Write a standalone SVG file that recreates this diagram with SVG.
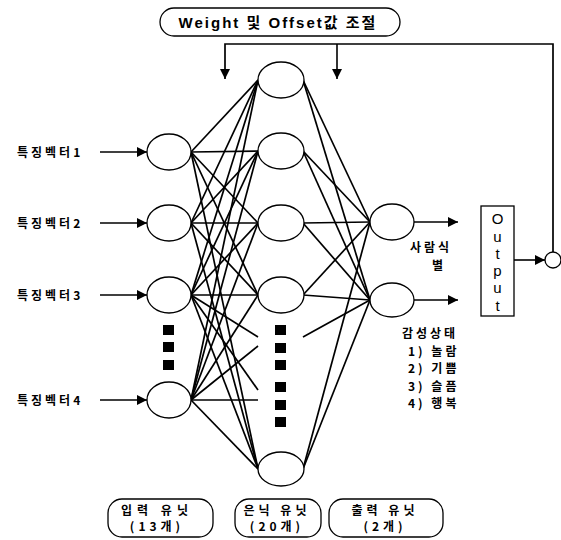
<svg xmlns="http://www.w3.org/2000/svg" width="561" height="540" viewBox="0 0 561 540">
<defs>
<marker id="ah2" viewBox="0 0 10 10" refX="10" refY="5" markerWidth="10" markerHeight="10" markerUnits="userSpaceOnUse" orient="auto"><path d="M0,0 L10,5 L0,10 z" fill="#000"/></marker>
<style>
.n{fill:#fff;stroke:#000;stroke-width:1.3}
.w{stroke:#000;stroke-width:1.7;fill:none}
.a{stroke:#000;stroke-width:1.6;fill:none;marker-end:url(#ah2)}
.t{font-family:"Liberation Sans","Noto Sans CJK KR",sans-serif;fill:#000}
.k{font-family:"Noto Sans CJK KR","Liberation Sans",sans-serif;font-weight:bold;font-size:12px;fill:#000;letter-spacing:3px}
.b{fill:#fff;stroke:#000;stroke-width:1.3}
.sq{fill:#000}
</style>
</defs>
<rect width="561" height="540" fill="#fff"/>

<g id="connectors">
<g class="w">
<line x1="191" y1="152" x2="258" y2="80"/>
<line x1="191" y1="152" x2="258" y2="151"/>
<line x1="191" y1="152" x2="258" y2="223"/>
<line x1="191" y1="152" x2="258" y2="295"/>
<line x1="191" y1="152" x2="258" y2="469"/>
<line x1="191" y1="223" x2="258" y2="80"/>
<line x1="191" y1="223" x2="258" y2="151"/>
<line x1="191" y1="223" x2="258" y2="223"/>
<line x1="191" y1="223" x2="258" y2="295"/>
<line x1="191" y1="223" x2="258" y2="469"/>
<line x1="191" y1="295" x2="258" y2="80"/>
<line x1="191" y1="295" x2="258" y2="151"/>
<line x1="191" y1="295" x2="258" y2="223"/>
<line x1="191" y1="295" x2="258" y2="295"/>
<line x1="191" y1="295" x2="258" y2="469"/>
<line x1="191" y1="295" x2="258" y2="337"/>
<line x1="191" y1="295" x2="258" y2="390"/>
<line x1="191" y1="400" x2="258" y2="80"/>
<line x1="191" y1="400" x2="258" y2="151"/>
<line x1="191" y1="400" x2="258" y2="223"/>
<line x1="191" y1="400" x2="258" y2="295"/>
<line x1="191" y1="400" x2="258" y2="469"/>
<line x1="191" y1="400" x2="258" y2="346"/>
<line x1="191" y1="400" x2="258" y2="400"/>
<line x1="303" y1="80" x2="370" y2="222"/>
<line x1="303" y1="80" x2="370" y2="300"/>
<line x1="303" y1="151" x2="370" y2="222"/>
<line x1="303" y1="151" x2="370" y2="300"/>
<line x1="303" y1="223" x2="370" y2="222"/>
<line x1="303" y1="223" x2="370" y2="300"/>
<line x1="303" y1="295" x2="370" y2="222"/>
<line x1="303" y1="295" x2="370" y2="300"/>
<line x1="303" y1="469" x2="370" y2="222"/>
<line x1="303" y1="469" x2="370" y2="300"/>
<line x1="303" y1="337" x2="370" y2="300"/>
</g>
<line class="a" x1="100" y1="152" x2="147" y2="152"/>
<line class="a" x1="100" y1="223" x2="147" y2="223"/>
<line class="a" x1="100" y1="295" x2="147" y2="295"/>
<line class="a" x1="100" y1="400" x2="147" y2="400"/>
<line class="a" x1="414" y1="222" x2="458" y2="222"/>
<line class="a" x1="414" y1="300" x2="458" y2="300"/>
<line class="a" x1="514" y1="260" x2="545" y2="260"/>
<polyline class="w" points="553,252 553,44 225,44 225,79" style="marker-end:url(#ah2)"/>
<line class="a" x1="337" y1="44" x2="337" y2="79"/>
</g>

<g id="input-nodes">
<g id="in1"><ellipse class="n" cx="169" cy="152" rx="22" ry="18"/></g>
<g id="in2"><ellipse class="n" cx="169" cy="223" rx="22" ry="18"/></g>
<g id="in3"><ellipse class="n" cx="169" cy="295" rx="22" ry="18"/></g>
<g id="in4"><ellipse class="n" cx="169" cy="400" rx="22" ry="18"/></g>
<rect class="sq" x="163" y="325" width="11" height="10"/>
<rect class="sq" x="163" y="342" width="11" height="10"/>
<rect class="sq" x="163" y="360" width="11" height="10"/>
</g>

<g id="hidden-nodes">
<g id="h1"><ellipse class="n" cx="281" cy="80" rx="23" ry="18"/></g>
<g id="h2"><ellipse class="n" cx="281" cy="151" rx="23" ry="18"/></g>
<g id="h3"><ellipse class="n" cx="281" cy="223" rx="23" ry="18"/></g>
<g id="h4"><ellipse class="n" cx="281" cy="295" rx="23" ry="18"/></g>
<g id="h20"><ellipse class="n" cx="281" cy="469" rx="23" ry="17"/></g>
<rect class="sq" x="275" y="325" width="11" height="10"/>
<rect class="sq" x="275" y="343" width="11" height="10"/>
<rect class="sq" x="275" y="360" width="11" height="10"/>
<rect class="sq" x="275" y="382" width="11" height="10"/>
<rect class="sq" x="275" y="400" width="11" height="10"/>
<rect class="sq" x="275" y="417" width="11" height="10"/>
</g>

<g id="output-nodes">
<g id="o1"><ellipse class="n" cx="392" cy="222" rx="22" ry="18"/></g>
<g id="o2"><ellipse class="n" cx="392" cy="300" rx="22" ry="17"/></g>
</g>

<g id="output-box">
<rect class="b" x="481" y="206" width="33" height="110"/>
<g class="t" style="font-size:15px" text-anchor="middle">
<text x="497.5" y="224">O</text>
<text x="497.5" y="242">u</text>
<text x="497.5" y="259">t</text>
<text x="497.5" y="276">p</text>
<text x="497.5" y="293">u</text>
<text x="497.5" y="311">t</text>
</g>
</g>

<g id="sum-node"><circle class="n" cx="553" cy="260" r="8"/></g>

<g id="weight-box">
<rect class="b" x="160" y="8" width="240" height="28" rx="14" ry="14"/>
<text class="t" x="278" y="28" text-anchor="middle" style="font-size:15px;font-weight:bold;letter-spacing:2px">Weight 및 Offset값 조절</text>
</g>

<g id="labels">
<text class="k" x="17" y="157">특징벡터1</text>
<text class="k" x="17" y="228">특징벡터2</text>
<text class="k" x="17" y="300">특징벡터3</text>
<text class="k" x="17" y="405">특징벡터4</text>
<text class="k" x="410" y="252">사람식</text>
<text class="k" x="432" y="270">별</text>
<text class="k" x="402" y="338">감성상태</text>
<text class="k" x="408" y="356">1) 놀람</text>
<text class="k" x="408" y="373">2) 기쁨</text>
<text class="k" x="408" y="391">3) 슬픔</text>
<text class="k" x="408" y="408">4) 행복</text>
</g>

<g id="unit-boxes">
<g id="in-box"><rect class="b" x="108" y="499" width="105" height="38" rx="14"/>
<text class="k" x="157" y="515" text-anchor="middle" style="letter-spacing:5px">입력 유닛</text>
<text class="k" x="157" y="531" text-anchor="middle" style="letter-spacing:4px">(13개)</text></g>
<g id="hid-box"><rect class="b" x="235" y="499" width="86" height="38" rx="14"/>
<text class="k" x="277" y="515" text-anchor="middle" style="letter-spacing:4px">은닉 유닛</text>
<text class="k" x="277" y="531" text-anchor="middle" style="letter-spacing:4px">(20개)</text></g>
<g id="out-box"><rect class="b" x="329" y="499" width="114" height="38" rx="14"/>
<text class="k" x="385" y="515" text-anchor="middle" style="letter-spacing:4px">출력 유닛</text>
<text class="k" x="385" y="531" text-anchor="middle" style="letter-spacing:4px">(2개)</text></g>
</g>
</svg>
